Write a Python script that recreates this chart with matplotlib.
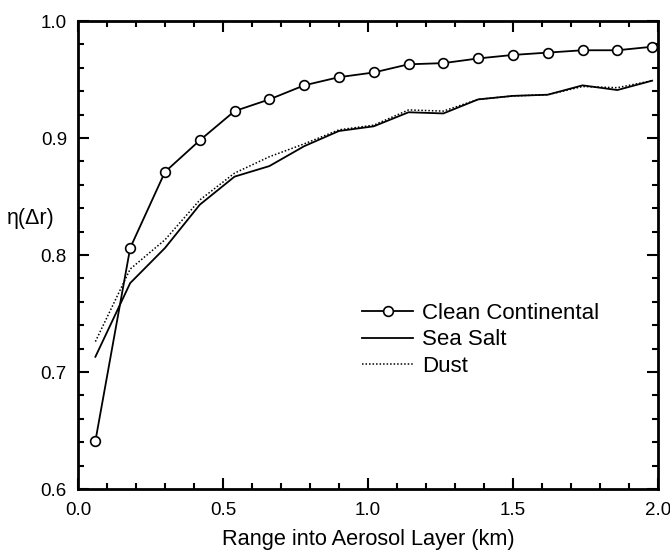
import matplotlib
matplotlib.use("Agg")
import matplotlib.pyplot as plt
from matplotlib.ticker import MultipleLocator

plt.rcParams['font.family'] = ['Liberation Sans', 'DejaVu Sans']

x = [0.06, 0.18, 0.30, 0.42, 0.54, 0.66, 0.78, 0.90, 1.02, 1.14, 1.26,
     1.38, 1.50, 1.62, 1.74, 1.86, 1.98]
clean_continental = [0.641, 0.806, 0.871, 0.898, 0.923, 0.933, 0.945, 0.952,
                     0.956, 0.963, 0.964, 0.968, 0.971, 0.973, 0.975, 0.975, 0.978]
sea_salt = [0.713, 0.776, 0.806, 0.843, 0.867, 0.876, 0.893, 0.906,
            0.910, 0.922, 0.921, 0.933, 0.936, 0.937, 0.945, 0.941, 0.949]
dust = [0.726, 0.788, 0.813, 0.847, 0.870, 0.884, 0.895, 0.907,
        0.911, 0.924, 0.923, 0.933, 0.936, 0.937, 0.944, 0.943, 0.949]

fig = plt.figure(figsize=(6.7, 5.5), dpi=100)
ax = fig.add_axes([0.1164, 0.1109, 0.8656, 0.8509])

ax.plot(x, clean_continental, color='black', lw=1.3, marker='o', ms=7,
        mfc='white', mec='black', mew=1.2, label='Clean Continental', zorder=3)
ax.plot(x, sea_salt, color='black', lw=1.3, label='Sea Salt')
ax.plot(x, dust, color='black', lw=1.1, linestyle=(0, (1, 1.3)), label='Dust')

ax.set_xlim(0, 2.0)
ax.set_ylim(0.6, 1.0)
ax.xaxis.set_major_locator(MultipleLocator(0.5))
ax.xaxis.set_minor_locator(MultipleLocator(0.1))
ax.yaxis.set_major_locator(MultipleLocator(0.1))
ax.yaxis.set_minor_locator(MultipleLocator(0.02))
ax.tick_params(which='both', direction='in', top=True, right=True, width=1.5,
               labelsize=13.5)
ax.tick_params(axis='x', pad=9)
ax.tick_params(axis='y', pad=8)
ax.tick_params(which='major', length=8)
ax.tick_params(which='minor', length=4.5)
for s in ax.spines.values():
    s.set_linewidth(2)

ax.set_xlabel('Range into Aerosol Layer (km)', fontsize=15.7, va='top')
ax.xaxis.set_label_coords(0.501, -0.0855)
ax.set_ylabel('η(Δr)', fontsize=15.5, rotation=0, ha='center', va='center')
ax.yaxis.set_label_coords(-0.081, 0.579)

leg = ax.legend(loc='upper left', bbox_to_anchor=(0.49, 0.398), frameon=False,
                fontsize=16, handlelength=2.3, handletextpad=0.4,
                labelspacing=0.25, borderpad=0, borderaxespad=0)

fig.savefig('out.png', dpi=100)
